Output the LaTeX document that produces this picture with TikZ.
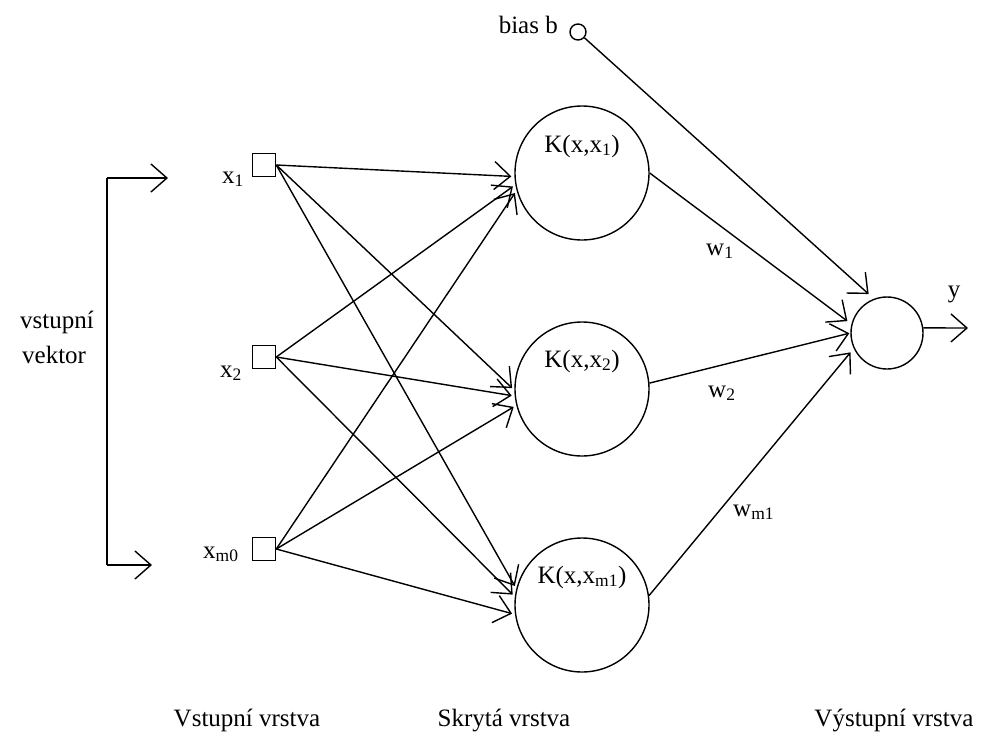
\documentclass[tikz,border=0pt]{standalone}
\usepackage{fontspec}
\setmainfont{Liberation Serif}
\usetikzlibrary{arrows.meta}
\begin{document}
\begin{tikzpicture}[x=1pt,y=-1pt,
  every node/.style={font=\fontsize{25}{30}\selectfont},
  ln/.style={line width=1.4pt},
  conn/.style={line width=1.4pt, -{Straight Barb[length=16pt,width=28pt,line width=1.4pt]}},
  inbox/.style={draw, line width=1.6pt, minimum size=23pt, inner sep=0pt},
  hid/.style={draw, circle, line width=1.4pt, minimum size=134pt, inner sep=0pt},
  lbl/.style={inner sep=0pt},
]
\useasboundingbox (0,0) rectangle (999,736);

% input squares
\node[inbox] (x1) at (264,165) {};
\node[inbox] (x2) at (264,357) {};
\node[inbox] (x3) at (264,549) {};
\node[lbl, anchor=base west] (lx1) at (222,183) {x\textsubscript{1}};
\node[lbl, anchor=base west] (lx2) at (220,377) {x\textsubscript{2}};
\node[lbl, anchor=base west] (lx3) at (203,558) {x\textsubscript{m0}};

% hidden layer
\node[hid] (K1) at (582,173) {};
\node[hid] (K2) at (582,389) {};
\node[hid] (K3) at (582,605) {};
\node[lbl, anchor=base] (tK1) at (582,152) {K(x,x\textsubscript{1})};
\node[lbl, anchor=base] (tK2) at (582,367) {K(x,x\textsubscript{2})};
\node[lbl, anchor=base] (tK3) at (582,583) {K(x,x\textsubscript{m1})};

% output and bias
\node[draw, circle, ln, minimum size=72pt, inner sep=0pt] (out) at (887,333) {};
\node[draw, circle, ln, minimum size=16pt, inner sep=0pt] (bias) at (578,32) {};
\node[lbl, anchor=base east] (tb) at (558,33) {bias b};
\coordinate (yend) at (968,328);
\node[lbl] (ty) at (954,294) {y};

% left bracket
\coordinate (bt) at (107,178);
\coordinate (bb) at (107,565);
\coordinate (at) at (168,178);
\coordinate (ab) at (152,565);
\draw[ln] (bt) -- (bb);
\draw[conn] (bt) -- (at);
\draw[conn] (bb) -- (ab);
\node[lbl, anchor=base west] (tv1) at (20,328) {vstupní};
\node[lbl, anchor=base west] (tv2) at (22,363) {vektor};

% input -> hidden
\draw[conn, shorten >=3pt] (x1.east) -- (K1.183);
\draw[conn, shorten >=3pt] (x2.east) -- (K1.190);
\draw[conn, shorten >=3pt] (x3.east) -- (K1.195);
\draw[conn, shorten >=3pt] (x1.east) -- (K2.181);
\draw[conn, shorten >=3pt] (x2.east) -- (K2.186);
\draw[conn, shorten >=3pt] (x3.east) -- (K2.194);
\draw[conn, shorten >=3pt] (x1.east) -- (K3.166);
\draw[conn, shorten >=3pt] (x2.east) -- (K3.173);
\draw[conn, shorten >=3pt] (x3.east) -- (K3.188);

% hidden -> output
\draw[conn, shorten >=5pt] (K1.east) -- (out.166);
\draw[conn, shorten >=1pt] (K2.5) -- (out.180);
\draw[conn, shorten >=5pt] (K3.8) -- (out.205);
\draw[conn, shorten >=7pt] (bias) -- (out.111);
\draw[conn] (out.8) -- (yend);

% weights
\node[lbl, anchor=base west] (w1) at (706,255) {w\textsubscript{1}};
\node[lbl, anchor=base west] (w2) at (708,397) {w\textsubscript{2}};
\node[lbl, anchor=base west] (w3) at (733,516) {w\textsubscript{m1}};

% layer captions
\node[lbl, anchor=base] (c1) at (247,726) {Vstupní vrstva};
\node[lbl, anchor=base] (c2) at (504,726) {Skrytá vrstva};
\node[lbl, anchor=base] (c3) at (894,726) {Výstupní vrstva};
\end{tikzpicture}
\end{document}
